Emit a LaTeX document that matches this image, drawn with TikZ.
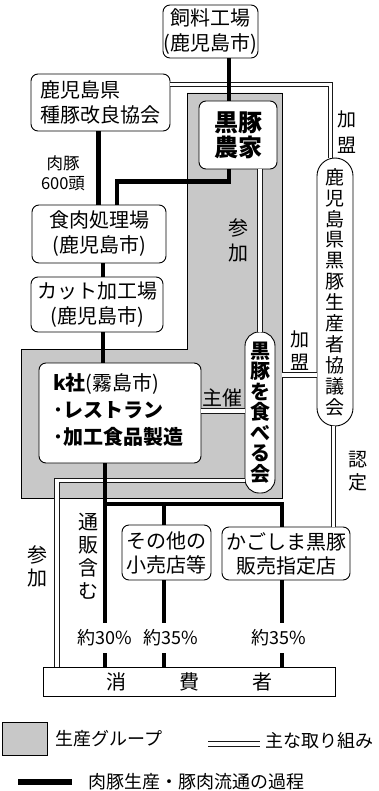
\documentclass[tikz,border=0pt]{standalone}
\usepackage{fontspec}
\setmainfont{Noto Sans CJK JP}
\definecolor{gfill}{RGB}{200,200,200}
\begin{document}
\begin{tikzpicture}[x=1pt,y=-1pt,
  box/.style={draw, line width=0.9pt, rounded corners=7pt, fill=white, inner sep=0pt, align=center, font=\fontsize{20}{25}\selectfont},
  capsule/.style={draw, line width=0.9pt, rounded corners=14pt, fill=white, inner sep=0pt, align=center},
  thk/.style={line width=4.5pt},
  dbl/.style={draw=black!90, double=white, double distance=3.5pt, line width=1pt},
  lbl/.style={inner sep=0pt, align=center, font=\fontsize{19}{24}\selectfont},
  pct/.style={inner sep=0pt, minimum height=30pt, font=\fontsize{18}{20}\selectfont},
]
\useasboundingbox (0,0) rectangle (379,791);
% production group area
\filldraw[fill=gfill, draw=black, line width=0.8pt] (187,93) -- (282,93) -- (282,498) -- (21,498) -- (21,349) -- (187,349) -- cycle;

% boxes
\node[box, minimum width=95pt, minimum height=53pt] (feed) at (210.5,31.5) {飼料工場\\(鹿児島市)};
\node[box, minimum width=139pt, minimum height=57pt, align=left] (breed) at (100.5,102.5) {鹿児島県\\種豚改良協会};
\node[box, minimum width=78pt, minimum height=68pt, font=\fontsize{24}{25}\selectfont\bfseries] (farm) at (238,135) {黒豚\\農家};
\node[box, minimum width=134pt, minimum height=58pt] (meat) at (99,234) {食肉処理場\\(鹿児島市)};
\node[box, minimum width=132pt, minimum height=55pt] (cut) at (97,304.5) {カット加工場\\(鹿児島市)};
\node[box, minimum width=162pt, minimum height=100pt] (k) at (120,413) {};
\node[inner sep=0pt, align=left, anchor=west, font=\fontsize{20}{27}\selectfont] (ktext) at (53,410) {\textbf{k社}(霧島市)\\\textbf{･レストラン}\\\textbf{･加工食品製造}};
\node[capsule, minimum width=30pt, minimum height=161pt, font=\fontsize{20}{20.5}\selectfont\bfseries] (eat) at (260,412.5) {黒\\豚\\を\\食\\べ\\る\\会};
\node[capsule, rounded corners=18pt, minimum width=36pt, minimum height=268pt, font=\fontsize{19}{20.9}\selectfont] (council) at (335,292) {鹿\\児\\島\\県\\黒\\豚\\生\\産\\者\\協\\議\\会};
\node[box, minimum width=89pt, minimum height=55pt, font=\fontsize{20}{24}\selectfont] (other) at (166.5,552.5) {その他の\\小売店等};
\node[box, minimum width=128pt, minimum height=53pt, font=\fontsize{20}{24}\selectfont] (kago) at (286,553.5) {かごしま黒豚\\販売指定店};
\node[draw, line width=0.9pt, fill=white, minimum width=292pt, minimum height=29pt, inner sep=0pt, font=\fontsize{20}{24}\selectfont] (consumer) at (189,681.5) {消\hspace{53pt}費\hspace{53pt}者};

% percentage labels
\node[pct] (p30) at (105,638) {約30\%};
\node[pct] (p35a) at (171,638) {約35\%};
\node[pct] (p35b) at (279,638) {約35\%};

% labels
\node[lbl, font=\fontsize{19}{26}\selectfont] (l1) at (347,132) {加\\盟};
\node[lbl, font=\fontsize{16.5}{20}\selectfont] (l2) at (63,173) {肉豚\\600頭};
\node[lbl, font=\fontsize{20}{25}\selectfont] (l3) at (238,240) {参\\加};
\node[lbl, font=\fontsize{19}{23}\selectfont] (l4) at (300,351) {加\\盟};
\node[lbl, font=\fontsize{20}{24}\selectfont] (l5) at (222.5,398) {主催};
\node[lbl, font=\fontsize{19}{23}\selectfont] (l6) at (358,471) {認\\定};
\node[lbl, font=\fontsize{20}{23}\selectfont] (l7) at (88,556) {通\\販\\含\\む};
\node[lbl, font=\fontsize{20}{23}\selectfont] (l8) at (37,566) {参\\加};

% double lines (main activities)
\draw[dbl] ([yshift=18pt]breed.east) -| ([xshift=-4.5pt]council.north);
\draw[dbl] ([xshift=22pt]farm.south) -- ([xshift=22pt]farm.south |- eat.north);
\draw[dbl] ([yshift=2pt]k.east) -- ([yshift=2pt]k.east -| eat.west);
\coordinate (ge) at (282,375);
\draw[dbl] (ge) -- (ge -| council.west);
\coordinate (lx) at (57,0);
\draw[dbl] ([yshift=-68pt]eat.west) -| (lx |- consumer.north);
\draw[dbl] ([xshift=-1.5pt]council.south) -- ([xshift=-1.5pt]council.south |- kago.north);

% thick lines (production and distribution)
\draw[thk] ([xshift=18.5pt]feed.south) -- ([xshift=18.5pt]feed.south |- farm.north);
\draw[thk] ([xshift=-9pt]farm.south) -- ++(0,12) -| ([xshift=18pt]meat.north);
\draw[thk] ([xshift=-2pt]breed.south) -- ([xshift=-2pt]breed.south |- meat.north);
\draw[thk] ([xshift=4pt]meat.south) -- ([xshift=4pt]meat.south |- cut.north);
\draw[thk] ([xshift=6pt]cut.south) -- ([xshift=6pt]cut.south |- k.north);
\draw[thk] ([xshift=-15pt]k.south) -- ([xshift=-15pt]k.south |- p30.north);
\draw[thk] (p30.south) -- (p30.south |- consumer.north);
\coordinate (br) at (105,504);
\draw[thk] (br) -| ([xshift=-4pt]kago.north);
\coordinate (ob) at (164,504);
\draw[thk] (ob) -- (ob |- other.north);
\coordinate (ox) at (164,0);
\draw[thk] (ox |- other.south) -- (ox |- p35a.north);
\draw[thk] (ox |- p35a.south) -- (ox |- consumer.north);
\coordinate (kx) at (282,0);
\draw[thk] (kx |- kago.south) -- (kx |- p35b.north);
\draw[thk] (kx |- p35b.south) -- (kx |- consumer.north);

% legend
\filldraw[fill=gfill, draw=black, line width=0.8pt] (2,722) rectangle (47,755);
\node[inner sep=0pt, anchor=west, font=\fontsize{18}{20}\selectfont] (lg1) at (55,739) {生産グループ};
\coordinate (lda) at (208,744);
\coordinate (ldb) at (260,744);
\draw[dbl] (lda) -- (ldb);
\node[inner sep=0pt, anchor=west, font=\fontsize{18}{20}\selectfont] (lg2) at (265,741) {主な取り組み};
\coordinate (lta) at (18,782);
\coordinate (ltb) at (72,782);
\draw[line width=5.5pt] (lta) -- (ltb);
\node[inner sep=0pt, anchor=west, font=\fontsize{18}{20}\selectfont] (lg3) at (88,782) {肉豚生産・豚肉流通の過程};
\end{tikzpicture}
\end{document}
